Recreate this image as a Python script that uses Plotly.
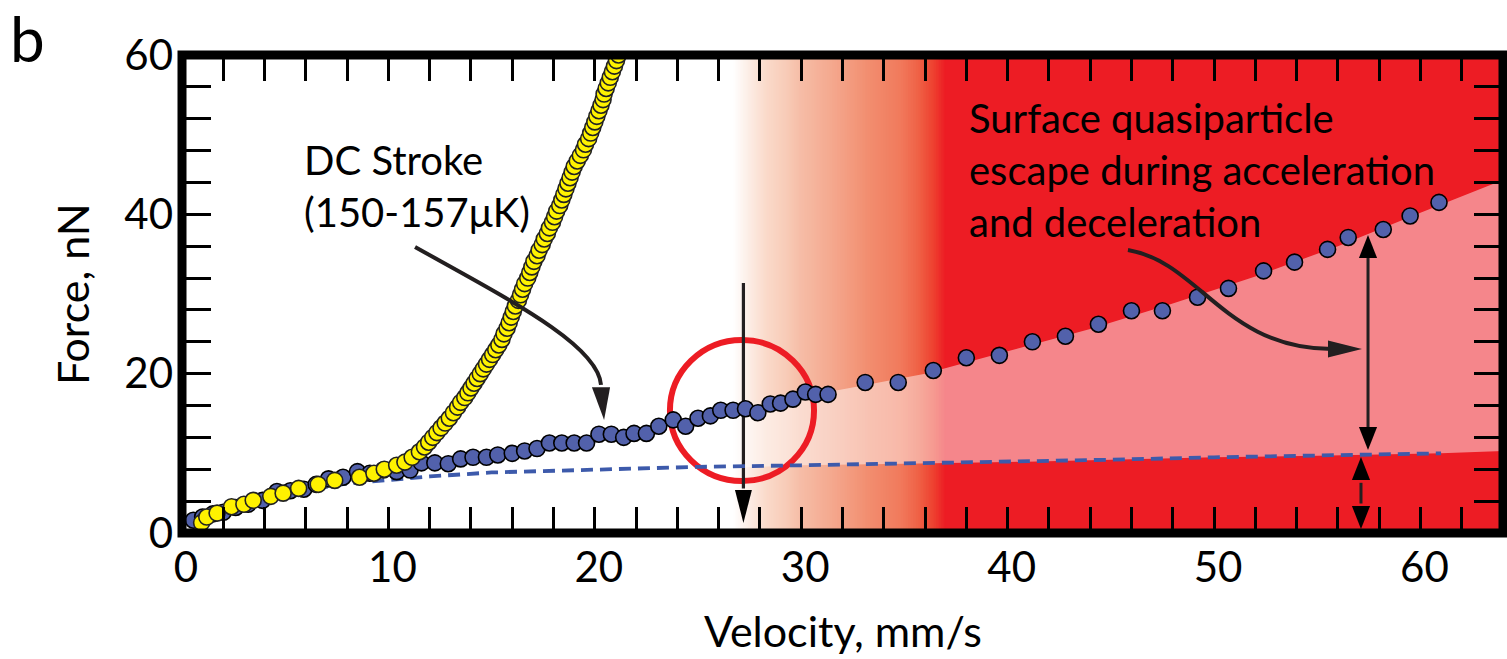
import plotly.graph_objects as go

# ---------------- data ----------------
blue_v = [0.55, 1.0, 1.5, 2.0, 2.6, 3.2, 3.9, 4.6, 5.25, 5.9, 6.5, 7.1, 7.8, 8.5, 9.1, 9.75,
          10.4, 11.05, 11.6, 12.25, 12.9, 13.5, 14.1, 14.75, 15.3, 16.0, 16.6, 17.2, 17.8,
          18.4, 19.0, 19.6, 20.2, 20.8, 21.4, 21.9, 22.5, 23.1, 23.8, 24.4, 25.0, 25.6, 26.1,
          26.7, 27.3, 27.9, 28.5, 29.0, 29.6, 30.2, 30.7, 31.3,
          33.1, 34.7, 36.4, 38.0, 39.6, 41.2, 42.8, 44.4, 46.0, 47.5, 49.2, 50.7, 52.4,
          53.9, 55.5, 56.5, 58.2, 59.5, 60.9]
blue_f = [1.6, 2.0, 2.4, 2.6, 3.2, 3.6, 4.1, 5.2, 5.3, 5.5, 6.1, 6.8, 7.0, 7.7, 7.5, 7.9,
          7.7, 7.9, 8.8, 8.8, 8.7, 9.3, 9.5, 9.5, 9.8, 10.0, 10.3, 10.6, 11.3,
          11.3, 11.3, 11.3, 12.4, 12.4, 12.0, 12.5, 12.5, 13.4, 14.2, 13.4, 14.4, 14.7, 15.4,
          15.4, 15.6, 15.1, 16.2, 16.3, 16.8, 17.7, 17.4, 17.4,
          18.9, 18.9, 20.4, 22.0, 22.3, 24.0, 24.7, 26.2, 27.9, 27.9, 29.6, 30.7, 32.9,
          34.0, 35.6, 37.1, 38.1, 39.8, 41.5]

yellow_v = [0.95, 1.2, 1.7, 2.4, 3.0, 3.45, 4.3, 4.9, 5.65, 6.6, 7.4, 8.6, 9.3, 9.8, 10.4,
            10.8, 11.15, 11.5, 11.75, 11.95, 12.15, 12.35, 12.55, 12.75, 12.95, 13.15, 13.35,
            13.5, 13.7, 13.85, 14.0, 14.15, 14.3, 14.45, 14.6, 14.75, 14.9, 15.05, 15.2, 15.35,
            15.5, 15.6, 15.75, 15.85, 15.95, 16.05, 16.15, 16.3, 16.4, 16.5, 16.6, 16.75, 16.85,
            16.95, 17.05, 17.2, 17.3, 17.45, 17.55, 17.7, 17.8, 17.95, 18.05, 18.15, 18.3, 18.4,
            18.5, 18.6, 18.7, 18.8, 18.9, 19.0, 19.15, 19.3, 19.45, 19.55, 19.7, 19.8, 19.9,
            20.0, 20.1, 20.2, 20.3, 20.4, 20.45, 20.55, 20.65, 20.75, 20.85, 20.95, 21.05, 21.15]
yellow_f = [1.3, 2.0, 2.5, 3.3, 3.6, 4.1, 4.6, 5.0, 5.6, 6.1, 6.6, 7.0, 7.5, 8.0, 8.5,
            8.9, 9.5, 10.2, 10.8, 11.4, 12.0, 12.6, 13.2, 13.8, 14.4, 15.1, 15.8,
            16.4, 17.0, 17.6, 18.2, 18.8, 19.4, 20.0, 20.6, 21.2, 21.8, 22.4, 23.0, 23.6,
            24.3, 25.0, 25.7, 26.4, 27.1, 27.8, 28.5, 29.2, 29.9, 30.6, 31.3, 32.0, 32.7,
            33.4, 34.1, 34.8, 35.5, 36.2, 36.9, 37.6, 38.3, 39.0, 39.7, 40.4, 41.1, 41.8,
            42.5, 43.2, 43.9, 44.6, 45.3, 46.0, 46.7, 47.4, 48.1, 48.8, 49.5, 50.2, 50.9,
            51.6, 52.3, 53.0, 53.7, 54.4, 55.1, 55.8, 56.5, 57.2, 57.9, 58.6, 59.3, 60.0]

# dashed baseline fit
fit_v = [0.3, 2, 4, 6, 8, 10, 12, 15, 20, 25, 30, 35, 40, 45, 50, 55, 61]
fit_f = [1.0, 2.6, 4.2, 5.4, 6.2, 6.7, 7.1, 7.6, 8.0, 8.3, 8.5, 8.7, 8.9, 9.2, 9.5, 9.7, 10.0]
# extension of the lower red band beyond the end of the dashed fit
band_end_v = [64]
band_end_f = [10.3]

# upper edge of the pink "escape" band
escape_top_v = [26.7, 28, 30, 31.5, 33, 36, 40, 44, 48, 52, 56, 60, 64]
escape_top_f = [15.5, 16.0, 17.0, 17.8, 18.5, 20.0, 22.8, 25.6, 28.8, 32.2, 36.0, 40.2, 44.3]

# colour gradient of the background (velocity -> colour)
grad_stop_v = [26.7, 27.5, 28.3, 29.3, 29.9, 31.5, 33.1, 34.8, 35.6, 36.4, 37.0]
grad_stop_rgb = [(255, 255, 255), (252, 236, 228), (250, 218, 202), (248, 203, 183),
                 (246, 190, 168), (244, 168, 142), (242, 144, 114), (241, 122, 92),
                 (239, 100, 72), (238, 65, 48), (237, 28, 36)]

x_range = [0, 64]
y_range = [0, 60]
x_labels = [0, 10, 20, 30, 40, 50, 60]
y_labels = [0, 20, 40, 60]
x_minor_step = 2
y_minor_step = 4

# ---------------- styling ----------------
RED = "#ED1C24"
BLUE = "#5261AB"
YEL = "#FFF200"
INK = "#231F20"
FONT = "Lato"

shapes = []

# gradient strips
def lerp_col(v):
    for i in range(len(grad_stop_v) - 1):
        a, b = grad_stop_v[i], grad_stop_v[i + 1]
        if a <= v <= b:
            t = (v - a) / (b - a)
            c0, c1 = grad_stop_rgb[i], grad_stop_rgb[i + 1]
            return "rgb(%d,%d,%d)" % tuple(round(c0[k] + (c1[k] - c0[k]) * t) for k in range(3))
    return "rgb(%d,%d,%d)" % grad_stop_rgb[-1]

step = 0.08
v = grad_stop_v[0]
while v < grad_stop_v[-1]:
    shapes.append(dict(type="rect", xref="x", yref="y", x0=v, x1=v + step * 1.6,
                       y0=y_range[0], y1=y_range[1], fillcolor=lerp_col(v + step / 2),
                       line=dict(width=0), layer="below"))
    v += step
shapes.append(dict(type="rect", xref="x", yref="y", x0=grad_stop_v[-1], x1=x_range[1],
                   y0=y_range[0], y1=y_range[1], fillcolor=RED, line=dict(width=0), layer="below"))

# pink band (white veil between dashed fit and upper edge)
lower_v = [v for v in fit_v if v >= escape_top_v[0]] + band_end_v
lower_f = [f for v, f in zip(fit_v, fit_f) if v >= escape_top_v[0]] + band_end_f
lower_v = [escape_top_v[0]] + lower_v
lower_f = [8.2] + lower_f
pts = list(zip(escape_top_v, escape_top_f)) + list(zip(lower_v[::-1], lower_f[::-1]))
path = "M " + " L ".join("%.3f,%.3f" % p for p in pts) + " Z"
shapes.append(dict(type="path", xref="x", yref="y", path=path,
                   fillcolor="rgba(255,255,255,0.47)", line=dict(width=0), layer="below"))

# red circle
shapes.append(dict(type="circle", xref="x", yref="y", x0=23.64, x1=30.62, y0=6.53, y1=24.22,
                   line=dict(color=RED, width=6), layer="below"))

def tri(p1, p2, p3, color=INK, layer="below"):
    return dict(type="path", xref="x", yref="y",
                path="M %.3f,%.3f L %.3f,%.3f L %.3f,%.3f Z" % (p1 + p2 + p3),
                fillcolor=color, line=dict(width=0), layer=layer)

def seg(x0, y0, x1, y1, w=3):
    return dict(type="line", xref="x", yref="y", x0=x0, y0=y0, x1=x1, y1=y1,
                line=dict(color=INK, width=w), layer="below")

# vertical arrow at onset
shapes.append(seg(27.20, 31.38, 27.20, 5.6, 3.2))
shapes.append(tri((26.79, 5.40), (27.61, 5.40), (27.20, 1.26), "black"))

# curved arrow: DC stroke
shapes.append(dict(type="path", xref="x", yref="y",
                   path="M 11.29,35.90 C 15.89,29.25 20.16,23.60 20.30,18.6",
                   line=dict(color=INK, width=4), layer="above"))
shapes.append(tri((19.86, 18.3), (20.74, 18.3), (20.45, 14.18), INK, "above"))

# curved arrow: escape
shapes.append(dict(type="path", xref="x", yref="y",
                   path="M 45.83,35.52 C 49.32,34.02 50.53,22.97 55.8,23.10",
                   line=dict(color=INK, width=4), layer="above"))
shapes.append(tri((55.52, 24.17), (55.52, 22.03), (57.17, 23.10), INK, "above"))

# big double arrow
shapes.append(seg(57.46, 34.9, 57.46, 12.9, 3))
shapes.append(tri((57.02, 34.52), (57.90, 34.52), (57.46, 37.40), "black"))
shapes.append(tri((57.02, 13.30), (57.90, 13.30), (57.46, 10.42), "black"))

# small double arrow
shapes.append(seg(57.12, 6.3, 57.12, 3.7, 3))
shapes.append(tri((56.68, 6.65), (57.56, 6.65), (57.12, 9.54), "black"))
shapes.append(tri((56.68, 3.39), (57.56, 3.39), (57.12, 0.50), "black"))

# frame
shapes.append(dict(type="rect", xref="paper", yref="paper", x0=0, x1=1, y0=0, y1=1,
                   line=dict(color="black", width=9), fillcolor="rgba(0,0,0,0)", layer="above"))

fig = go.Figure()
fig.add_trace(go.Scatter(x=fit_v, y=fit_f, mode="lines",
                         line=dict(color="#3D5AAB", width=3.8, dash="12px,7px"),
                         hoverinfo="skip", showlegend=False))
fig.add_trace(go.Scatter(x=blue_v, y=blue_f, mode="markers",
                         marker=dict(size=16, color=BLUE, line=dict(color="black", width=1.6)),
                         showlegend=False))
fig.add_trace(go.Scatter(x=yellow_v, y=yellow_f, mode="markers",
                         marker=dict(size=16, color=YEL, line=dict(color="#222222", width=1.6)),
                         showlegend=False))

x_ticks = list(range(x_range[0], x_range[1] + 1, x_minor_step))
y_ticks = list(range(y_range[0], y_range[1] + 1, y_minor_step))

fig.update_xaxes(range=x_range, tickmode="array", tickvals=x_ticks,
                 ticktext=[str(t) if t in x_labels else "" for t in x_ticks],
                 ticks="inside", ticklen=26, tickwidth=3, tickcolor="black",
                 mirror="ticks", showline=False, showgrid=False, zeroline=False,
                 tickfont=dict(family=FONT, size=42, color="black"),
                 ticklabelstandoff=6, ticklabelshift=4)
fig.update_yaxes(range=y_range, tickmode="array", tickvals=y_ticks,
                 ticktext=[str(t) if t in y_labels else "" for t in y_ticks],
                 ticks="inside", ticklen=29, tickwidth=3, tickcolor="black",
                 mirror="ticks", showline=False, showgrid=False, zeroline=False,
                 tickfont=dict(family=FONT, size=42, color="black"),
                 ticklabelstandoff=8)

annotations = [
    dict(text="b", xref="paper", yref="paper", x=-0.1173, y=1.0356, showarrow=False,
         font=dict(family=FONT, size=62, color="black"), xanchor="center", yanchor="middle"),
    dict(text="Velocity, mm/s", xref="paper", yref="paper", x=0.5, y=-0.205, showarrow=False,
         font=dict(family=FONT, size=43, color="black"), xanchor="center", yanchor="middle"),
    dict(text="Force, nN", xref="paper", yref="paper", x=-0.0833, y=0.5, showarrow=False,
         textangle=-90, font=dict(family=FONT, size=43, color="black"),
         xanchor="center", yanchor="middle"),
    dict(text="DC Stroke<br>(150-157\u03bcK)", xref="x", yref="y", x=5.81, y=43.55,
         showarrow=False, align="left", xanchor="left", yanchor="middle",
         font=dict(family=FONT, size=40, color="black")),
    dict(text="Surface quasiparticle<br>escape during acceleration<br>and deceleration",
         xref="x", yref="y", x=38.03, y=45.56, showarrow=False, align="left",
         xanchor="left", yanchor="middle", font=dict(family=FONT, size=40, color="black")),
]

fig.update_layout(width=1507, height=659, margin=dict(l=182, r=4, t=55, b=126),
                  paper_bgcolor="white", plot_bgcolor="white",
                  shapes=shapes, annotations=annotations, showlegend=False,
                  font=dict(family=FONT))

fig.write_html("out.html", config={"displayModeBar": False})
